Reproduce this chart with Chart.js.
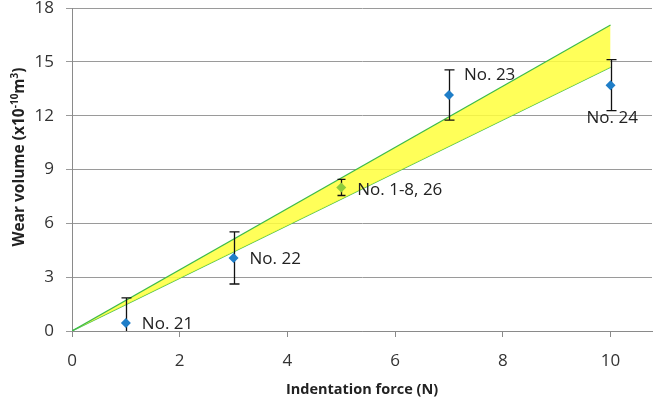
<!DOCTYPE html>
<html><head><meta charset="utf-8">
<script src="https://cdn.jsdelivr.net/npm/chart.js@4"></script>
<style>html,body{margin:0;padding:0;background:#fff}</style></head>
<body><canvas id="c" width="657" height="402"></canvas>
<script>
const forces = [1, 3, 5, 7, 10];
const wear = [0.45, 4.07, 8.0, 13.15, 13.7];
const wearErr = [1.4, 1.45, 0.45, 1.4, 1.42];
const pointLabels = ['No. 21', 'No. 22', 'No. 1-8, 26', 'No. 23', 'No. 24'];
const pointColors = ['#1f7ec8', '#1f7ec8', '#8ccc3c', '#1f7ec8', '#1f7ec8'];
const bandX = [0, 10];
const bandUpper = [0, 17.05];
const bandLower = [0, 14.7];
const yTitleParts = [['Wear volume (x10', false], ['-10', true], ['m', false], ['3', true], [')', false]];

const FONT = '"Open Sans", "Noto Sans", sans-serif';
const labelOffsets = [[16, 1], [16, 1], [16, 3], [15, -20], [-24, 33]];

function zeroPad(s) { s.paddingLeft = 0; s.paddingRight = 0; s.paddingTop = 0; s.paddingBottom = 0; }

const errorBars = {
  id: 'errorBars',
  beforeDatasetDraw(chart, args) {
    if (args.index !== 0) return;
    const {ctx, chartArea: a, scales: {x, y}} = chart;
    ctx.save();
    ctx.beginPath(); ctx.rect(a.left, a.top, a.right - a.left, a.bottom - a.top); ctx.clip();
    ctx.strokeStyle = '#111'; ctx.lineWidth = 1.3;
    forces.forEach((f, i) => {
      const px = Math.round(x.getPixelForValue(f)) + 0.5;
      const top = y.getPixelForValue(wear[i] + wearErr[i]);
      const bot = y.getPixelForValue(wear[i] - wearErr[i]);
      const cw = i === 2 ? 4 : 5;
      ctx.beginPath();
      ctx.moveTo(px, top); ctx.lineTo(px, bot);
      ctx.moveTo(px - cw, top); ctx.lineTo(px + cw, top);
      ctx.moveTo(px - cw, bot); ctx.lineTo(px + cw, bot);
      ctx.stroke();
    });
    ctx.restore();
  }
};

const pointText = {
  id: 'pointText',
  afterDatasetsDraw(chart) {
    const {ctx, scales: {x, y}} = chart;
    ctx.save();
    ctx.font = '17px ' + FONT;
    ctx.fillStyle = '#222';
    ctx.textBaseline = 'middle';
    ctx.textAlign = 'left';
    forces.forEach((f, i) => {
      const px = x.getPixelForValue(f), py = y.getPixelForValue(wear[i]);
      ctx.fillText(pointLabels[i], px + labelOffsets[i][0], py + labelOffsets[i][1]);
    });
    ctx.restore();
  }
};

const yTitle = {
  id: 'yTitle',
  afterDraw(chart) {
    const {ctx} = chart;
    const big = 'bold 15.5px ' + FONT, small = 'bold 10px ' + FONT;
    ctx.save();
    let total = 0;
    yTitleParts.forEach(([t, sup]) => { ctx.font = sup ? small : big; total += ctx.measureText(t).width; });
    ctx.translate(20, 157);
    ctx.rotate(-Math.PI / 2);
    ctx.fillStyle = '#222';
    ctx.textBaseline = 'middle';
    ctx.textAlign = 'left';
    let cx = -total / 2;
    yTitleParts.forEach(([t, sup]) => {
      ctx.font = sup ? small : big;
      ctx.fillText(t, cx, sup ? -5 : 0);
      cx += ctx.measureText(t).width;
    });
    ctx.restore();
  }
};

new Chart(document.getElementById('c'), {
  type: 'scatter',
  data: {
    datasets: [
      {
        label: 'Wear volume',
        data: forces.map((f, i) => ({x: f, y: wear[i]})),
        pointStyle: 'rectRot',
        pointRadius: 5,
        backgroundColor: pointColors,
        borderColor: pointColors,
        borderWidth: 0,
        showLine: false
      },
      {
        label: 'Upper',
        data: bandX.map((f, i) => ({x: f, y: bandUpper[i]})),
        showLine: true,
        pointRadius: 0,
        borderColor: '#3dbb4a',
        borderWidth: 1.2,
        backgroundColor: 'rgba(255,255,60,0.85)',
        fill: '+1'
      },
      {
        label: 'Lower',
        data: bandX.map((f, i) => ({x: f, y: bandLower[i]})),
        showLine: true,
        pointRadius: 0,
        borderColor: '#3dbb4a',
        borderWidth: 1.2,
        fill: false
      }
    ]
  },
  options: {
    responsive: false,
    animation: false,
    layout: {padding: {top: 8, right: 0, left: 0, bottom: 0}},
    plugins: {legend: {display: false}, tooltip: {enabled: false}},
    scales: {
      x: {
        type: 'linear', min: 0, max: 10.77,
        afterFit(s) { s.height = 71; zeroPad(s); },
        border: {color: '#8a8a8a', width: 1},
        grid: {drawOnChartArea: false, tickLength: 6, color: '#8a8a8a'},
        ticks: {stepSize: 2, includeBounds: false, color: '#333', font: {family: FONT, size: 17}, padding: 14},
        title: {display: true, text: 'Indentation force (N)', color: '#222', font: {family: FONT, size: 14.5, weight: 'bold'}, padding: {top: 4, bottom: 3}}
      },
      y: {
        min: 0, max: 18,
        afterFit(s) { s.width = 72; zeroPad(s); },
        border: {color: '#8a8a8a', width: 1},
        grid: {color: '#9a9a9a', tickLength: 6},
        ticks: {stepSize: 3, color: '#333', font: {family: FONT, size: 17}, padding: 12},
        title: {display: false}
      }
    }
  },
  plugins: [errorBars, pointText, yTitle]
});
</script>
</body></html>
